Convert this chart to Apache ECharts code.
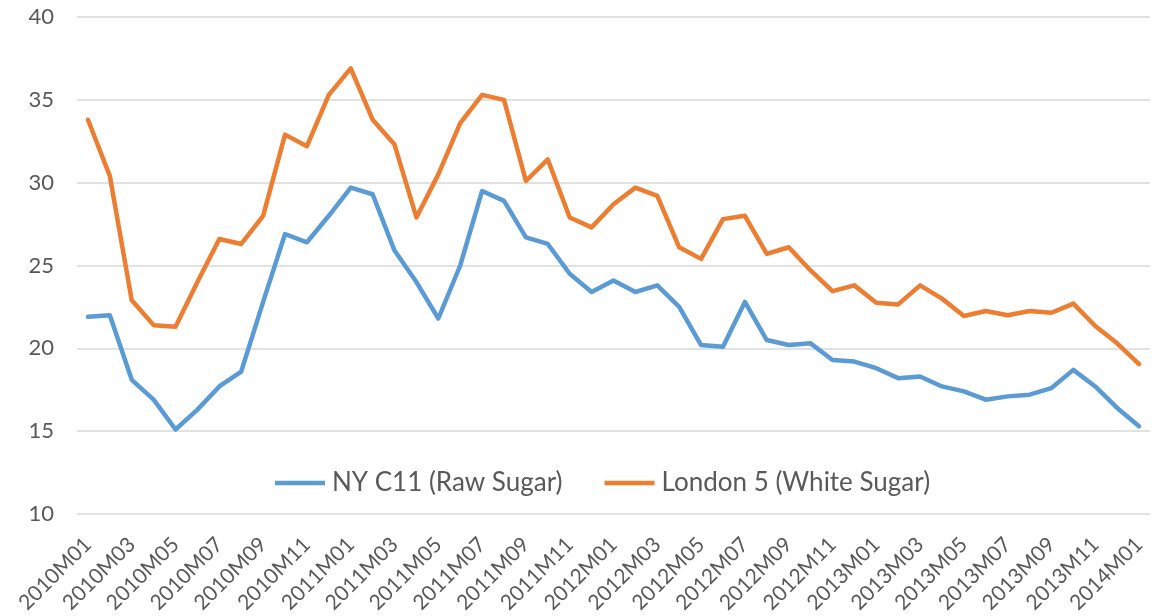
<!DOCTYPE html>
<html>
<head>
<meta charset="utf-8">
<script src="https://cdn.jsdelivr.net/npm/echarts@6/dist/echarts.min.js"></script>
<style>html,body{margin:0;padding:0;background:#fff;}#c{width:1168px;height:616px;}</style>
</head>
<body>
<div id="c"></div>
<script>
const months = [];
for (let y = 2010; y <= 2014; y++) {
  for (let m = 1; m <= 12; m++) {
    if (y === 2014 && m > 1) break;
    months.push(y + 'M' + (m < 10 ? '0' + m : m));
  }
}
const nyRaw = [21.9, 22.0, 18.1, 16.9, 15.1, 16.3, 17.7, 18.6, 22.8, 26.9, 26.4, 28.0,
  29.7, 29.3, 25.9, 24.0, 21.8, 25.0, 29.5, 28.9, 26.7, 26.3, 24.5, 23.4,
  24.1, 23.4, 23.8, 22.5, 20.2, 20.1, 22.8, 20.5, 20.2, 20.3, 19.3, 19.2,
  18.8, 18.2, 18.3, 17.7, 17.4, 16.9, 17.1, 17.2, 17.6, 18.7, 17.7, 16.4,
  15.3];
const london5 = [33.8, 30.4, 22.9, 21.4, 21.3, 24.0, 26.6, 26.3, 28.0, 32.9, 32.2, 35.3,
  36.9, 33.8, 32.3, 27.9, 30.5, 33.6, 35.3, 35.0, 30.1, 31.4, 27.9, 27.3,
  28.7, 29.7, 29.2, 26.1, 25.4, 27.8, 28.0, 25.7, 26.1, 24.7, 23.45, 23.8,
  22.75, 22.65, 23.8, 23.0, 21.95, 22.25, 22.0, 22.25, 22.15, 22.7, 21.35, 20.3,
  19.05];
const seriesNames = ['NY C11 (Raw Sugar)', 'London 5 (White Sugar)'];

const chart = echarts.init(document.getElementById('c'), null, {renderer: 'canvas'});
const font = 'Lato, "Open Sans", sans-serif';
chart.setOption({
  animation: false,
  backgroundColor: '#ffffff',
  grid: {left: 77, right: 18, top: 17, bottom: 100, containLabel: false},
  legend: {
    data: seriesNames,
    left: 270,
    top: 465,
    itemWidth: 50,
    itemHeight: 14,
    itemGap: 42,
    icon: 'path://M0,5 L50,5 L50,9.5 L0,9.5 Z',
    textStyle: {fontFamily: font, fontSize: 26, color: '#595959', padding: [0, 0, 0, 2]}
  },
  xAxis: {
    type: 'category',
    data: months,
    boundaryGap: true,
    axisLine: {show: false},
    axisTick: {show: false},
    axisLabel: {
      interval: 1,
      rotate: 45,
      margin: 27,
      fontFamily: font,
      fontSize: 21,
      color: '#595959'
    },
    splitLine: {show: false}
  },
  yAxis: {
    type: 'value',
    min: 10,
    max: 40,
    interval: 5,
    axisLine: {show: false},
    axisTick: {show: false},
    axisLabel: {margin: 23, fontFamily: font, fontSize: 22, color: '#595959'},
    splitLine: {lineStyle: {color: '#D9D9D9', width: 1.5}}
  },
  series: [
    {
      name: seriesNames[0], type: 'line', data: nyRaw, symbol: 'none',
      lineStyle: {color: '#5B9BD5', width: 4.5, join: 'round', cap: 'round'},
      itemStyle: {color: '#5B9BD5'}
    },
    {
      name: seriesNames[1], type: 'line', data: london5, symbol: 'none',
      lineStyle: {color: '#ED7D31', width: 4.5, join: 'round', cap: 'round'},
      itemStyle: {color: '#ED7D31'}
    }
  ]
});
</script>
</body>
</html>
